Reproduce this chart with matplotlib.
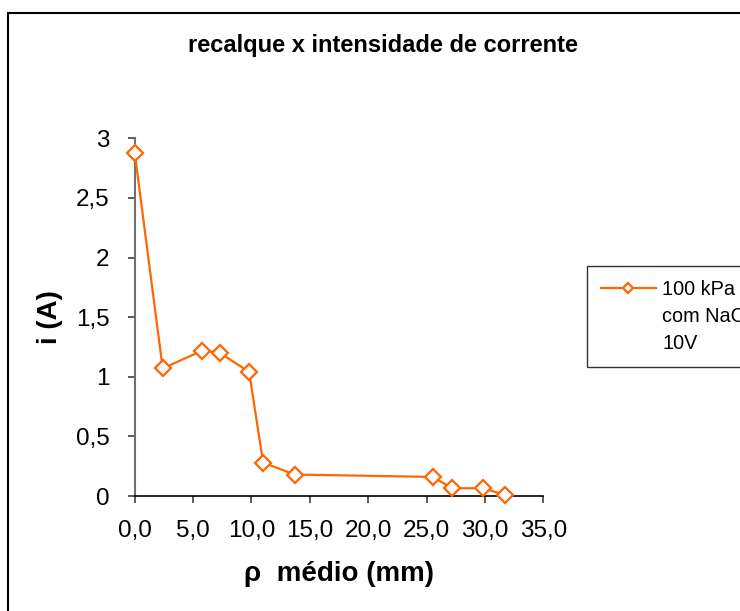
import matplotlib.pyplot as plt
from matplotlib.lines import Line2D
from matplotlib.patches import Rectangle
from matplotlib.ticker import FuncFormatter, MultipleLocator

plt.rcParams.update({
    "font.family": "sans-serif",
    "font.sans-serif": ["Liberation Sans", "DejaVu Sans"],
})

# recalque medio (mm) vs corrente (A)
rho_medio = [0.0, 2.4, 5.8, 7.3, 9.8, 11.0, 13.7, 25.5, 27.2, 29.8, 31.7]
corrente = [2.88, 1.07, 1.22, 1.20, 1.04, 0.28, 0.18, 0.16, 0.065, 0.065, 0.01]
serie_label = ["100 kPa", "com NaCl", "10V"]

orange = "#FF6600"

fig = plt.figure(figsize=(7.4, 6.11), dpi=100)
ax = fig.add_axes([0.182, 0.1882, 0.5524, 0.5855])

line, = ax.plot(rho_medio, corrente, color=orange, linewidth=1.6,
                marker="D", markersize=8.2, markerfacecolor="white",
                markeredgecolor=orange, markeredgewidth=1.6,
                clip_on=False, zorder=3)

ax.set_xlim(0, 35)
ax.set_ylim(0, 3)
ax.xaxis.set_major_locator(MultipleLocator(5))
ax.yaxis.set_major_locator(MultipleLocator(0.5))
ax.xaxis.set_major_formatter(FuncFormatter(lambda v, p: f"{v:.1f}".replace(".", ",")))
ax.yaxis.set_major_formatter(FuncFormatter(lambda v, p: f"{v:g}".replace(".", ",")))

ax.spines["top"].set_visible(False)
ax.spines["right"].set_visible(False)
ax.spines["left"].set_color("#707070")
ax.spines["left"].set_linewidth(1.5)
ax.spines["bottom"].set_color("black")
ax.spines["bottom"].set_linewidth(1.2)
ax.tick_params(axis="both", direction="out", length=5, width=1.2,
               labelsize=17.5, color="#404040")
ax.tick_params(axis="y", pad=13)
ax.tick_params(axis="x", pad=12)

ax.set_xlabel("ρ  médio (mm)", fontsize=20, fontweight="bold", labelpad=14)
ax.set_ylabel("i (A)", fontsize=20, fontweight="bold", labelpad=9)

fig.text(0.518, 0.926, "recalque x intensidade de corrente",
         ha="center", va="center", fontsize=17, fontweight="bold")

# legend: the series label wraps over three lines, handle on the first one
blank = Line2D([], [], linestyle="none", marker="none")
leg = ax.legend(handles=[line, blank, blank], labels=serie_label,
                loc="upper left", bbox_to_anchor=(587 / 740, 1 - 266 / 611),
                bbox_transform=fig.transFigure, borderaxespad=0,
                fontsize=14.3, frameon=True, fancybox=False,
                edgecolor="black", handlelength=2.75, handletextpad=0.35,
                borderpad=0.7, labelspacing=0.4, markerscale=0.6)
leg.get_frame().set_linewidth(1.0)

# outer chart border
fig.patches.append(Rectangle((7.5 / 740, -0.2), 1.5, 1.2 - 12.5 / 611,
                             transform=fig.transFigure, fill=False,
                             edgecolor="black", linewidth=1.5))

fig.savefig("out.png", dpi=100)
